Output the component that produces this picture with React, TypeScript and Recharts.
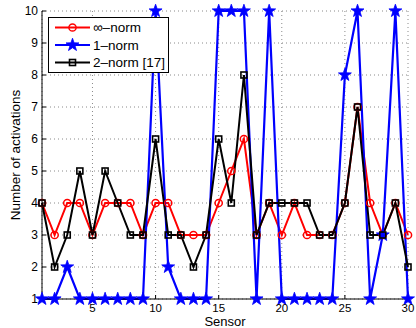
import React from 'react';
import { LineChart, Line, XAxis, YAxis, CartesianGrid, Legend } from 'recharts';

const sensors = [1, 2, 3, 4, 5, 6, 7, 8, 9, 10, 11, 12, 13, 14, 15, 16, 17, 18, 19, 20, 21, 22, 23, 24, 25, 26, 27, 28, 29, 30];
const infNorm = [4, 3, 4, 4, 3, 4, 4, 4, 3, 4, 4, 3, 3, 3, 4, 5, 6, 3, 4, 3, 4, 3, 3, 3, 4, 7, 4, 3, 4, 3];
const oneNorm = [1, 1, 2, 1, 1, 1, 1, 1, 1, 10, 2, 1, 1, 1, 10, 10, 10, 1, 10, 1, 1, 1, 1, 1, 8, 10, 1, 3, 10, 1];
const twoNorm = [4, 2, 3, 5, 3, 5, 4, 3, 3, 6, 3, 3, 2, 3, 6, 4, 8, 3, 4, 4, 4, 4, 3, 3, 4, 7, 3, 3, 4, 2];
const xTicks = [5, 10, 15, 20, 25, 30];
const yTicks = [1, 2, 3, 4, 5, 6, 7, 8, 9, 10];
const seriesNames = ['\u221e\u2013norm', '1\u2013norm', '2\u2013norm [17]'];

const data = sensors.map((s, i) => ({ x: s, inf: infNorm[i], one: oneNorm[i], two: twoNorm[i] }));

const FONT = '"Liberation Sans", Arial, Helvetica, sans-serif';

function starPath(cx: number, cy: number, R: number, r: number) {
  let d = '';
  for (let k = 0; k < 10; k++) {
    const rad = k % 2 === 0 ? R : r;
    const a = -Math.PI / 2 + (k * Math.PI) / 5;
    d += (k === 0 ? 'M' : 'L') + (cx + rad * Math.cos(a)).toFixed(2) + ',' + (cy + rad * Math.sin(a)).toFixed(2);
  }
  return d + 'Z';
}

const CircleDot = (props: any) => {
  const { cx, cy, index } = props;
  if (cx == null || cy == null) return <g key={index} />;
  return <circle key={index} cx={cx} cy={cy} r={3.6} fill="none" stroke="#ff0000" strokeWidth={1.5} />;
};
const StarDot = (props: any) => {
  const { cx, cy, index } = props;
  if (cx == null || cy == null) return <g key={index} />;
  return <path key={index} d={starPath(cx, cy, 6.8, 2.7)} fill="#0000ff" stroke="#0000ff" strokeWidth={0.8} />;
};
const SquareDot = (props: any) => {
  const { cx, cy, index } = props;
  if (cx == null || cy == null) return <g key={index} />;
  return <rect key={index} x={cx - 3} y={cy - 3} width={6} height={6} fill="none" stroke="#000" strokeWidth={1.6} />;
};

const LegendBox = () => {
  const rows = [
    { name: seriesNames[0], color: '#ff0000', kind: 'c' },
    { name: seriesNames[1], color: '#0000ff', kind: 's' },
    { name: seriesNames[2], color: '#000000', kind: 'q' },
  ];
  return (
    <svg width={121} height={56} style={{ display: 'block' }}>
      <rect x={0.5} y={0.5} width={120} height={55} fill="#fff" stroke="#000" strokeWidth={1} />
      {rows.map((r, i) => {
        const y = 10.5 + i * 17.5;
        return (
          <g key={i}>
            <line x1={7} x2={42} y1={y} y2={y} stroke={r.color} strokeWidth={2} />
            {r.kind === 'c' && <circle cx={24.5} cy={y} r={3.6} fill="none" stroke={r.color} strokeWidth={1.5} />}
            {r.kind === 's' && <path d={starPath(24.5, y, 6.8, 2.7)} fill={r.color} stroke={r.color} strokeWidth={0.8} />}
            {r.kind === 'q' && <rect x={21.5} y={y - 3} width={6} height={6} fill="none" stroke={r.color} strokeWidth={1.6} />}
            <text x={45} y={y + 4.8} fontSize={13.5} fontFamily={FONT} fill="#000">{r.name}</text>
          </g>
        );
      })}
    </svg>
  );
};

export default function App() {
  return (
    <div style={{ position: 'absolute', left: 0, top: 0, width: 416, height: 328, background: '#fff' }}>
      <LineChart width={416} height={328} data={data} margin={{ top: 11, right: 8, bottom: 0, left: 0 }}>
        <CartesianGrid stroke="#8a8a8a" strokeDasharray="1 3" strokeWidth={1} />
        <XAxis
          type="number"
          dataKey="x"
          domain={[1, 30]}
          ticks={xTicks}
          height={29}
          tickSize={-4}
          tickMargin={8.5}
          axisLine={{ stroke: '#000' }}
          tickLine={{ stroke: '#000' }}
          tick={{ fill: '#000', fontSize: 11.5, fontFamily: FONT }}
          label={{ value: 'Sensor', position: 'insideBottom', offset: 2, style: { fill: '#000', fontSize: 13, fontFamily: FONT } }}
        />
        <YAxis
          type="number"
          domain={[1, 10]}
          ticks={yTicks}
          width={42}
          tickSize={-4}
          tickMargin={8}
          axisLine={{ stroke: '#000' }}
          tickLine={{ stroke: '#000' }}
          tick={{ fill: '#000', fontSize: 12, fontFamily: FONT }}
          label={{ value: 'Number of activations', angle: -90, position: 'insideLeft', offset: 15, style: { textAnchor: 'middle', fill: '#000', fontSize: 13.5, fontFamily: FONT } }}
        />
        <Legend
          layout="horizontal"
          verticalAlign="middle"
          align="center"
          wrapperStyle={{ left: 48, top: 17, width: 'auto', height: 'auto' }}
          content={() => <LegendBox />}
        />
        <Line dataKey="inf" stroke="#ff0000" strokeWidth={2} dot={CircleDot} activeDot={false} isAnimationActive={false} />
        <Line dataKey="one" stroke="#0000ff" strokeWidth={2.2} dot={StarDot} activeDot={false} isAnimationActive={false} />
        <Line dataKey="two" stroke="#000000" strokeWidth={2} dot={SquareDot} activeDot={false} isAnimationActive={false} />
      </LineChart>
    </div>
  );
}
